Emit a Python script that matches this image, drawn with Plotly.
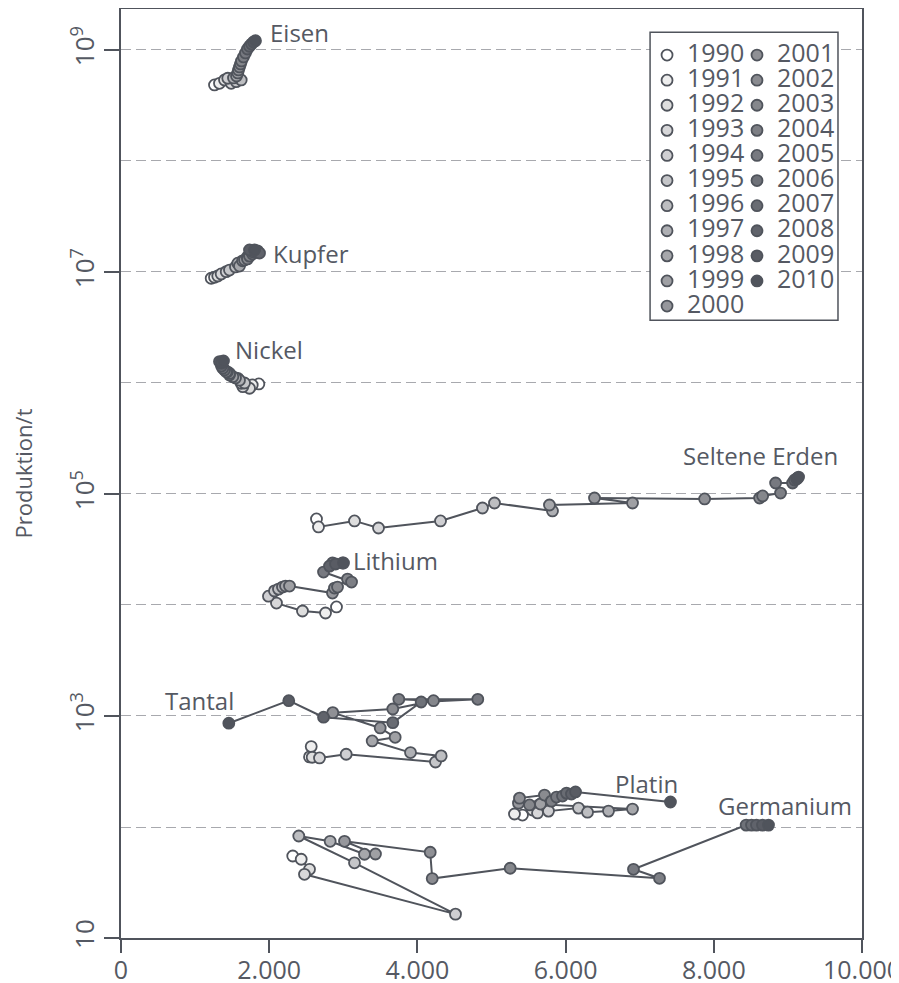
import plotly.graph_objects as go

years = list(range(1990, 2011))

eisen_x = [1262, 1329, 1397, 1487, 1441, 1555, 1622, 1518, 1559, 1576, 1586,
           1599, 1613, 1626, 1653, 1680, 1707, 1734, 1761, 1788, 1815]
eisen_y = [4.84e8, 5.01e8, 5.37e8, 5.01e8, 5.56e8, 5.18e8, 5.37e8, 5.6e8, 5.84e8, 6.21e8, 6.61e8,
           7.03e8, 7.48e8, 7.96e8, 8.65e8, 9.4e8, 1.02e9, 1.08e9, 1.13e9, 1.18e9, 1.21e9]

kupfer_x = [1217, 1262, 1306, 1352, 1420, 1464, 1545, 1576, 1599, 1640, 1667,
            1707, 1707, 1734, 1775, 1788, 1829, 1842, 1869, 1734, 1802]
kupfer_y = [8.78e6, 8.96e6, 9.2e6, 9.6e6, 1.007e7, 1.04e7, 1.11e7, 1.2e7, 1.13e7, 1.26e7, 1.28e7,
            1.37e7, 1.31e7, 1.39e7, 1.45e7, 1.51e7, 1.51e7, 1.55e7, 1.48e7, 1.58e7, 1.58e7]

nickel_x = [1860, 1771, 1734, 1644, 1622, 1667, 1576, 1599, 1545, 1509, 1464,
            1464, 1437, 1420, 1397, 1374, 1356, 1352, 1329, 1356, 1383]
nickel_y = [9.8e5, 9.6e5, 8.96e5, 9.27e5, 9.94e5, 1.0e6, 1.1e6, 1.06e6, 1.11e6, 1.14e6, 1.18e6,
            1.22e6, 1.26e6, 1.26e6, 1.31e6, 1.36e6, 1.42e6, 1.5e6, 1.56e6, 1.55e6, 1.58e6]

seltene_x = [2638, 2665, 3151, 3475, 4312, 4878, 5040, 5823, 5782, 6903, 6390,
             7876, 8618, 8659, 8901, 8834, 9063, 9090, 9117, 9130, 9144]
seltene_y = [59600, 50500, 57200, 49400, 57200, 74800, 82900, 70300, 79600, 82900, 92000,
             90200, 92000, 96000, 102000, 125600, 125600, 133700, 136400, 139000, 142000]

lithium_x = [2908, 2760, 2449, 2098, 1990, 2071, 2125, 2179, 2220, 2274, 2854,
             2881, 2922, 3057, 3111, 2733, 2854, 2989, 2814, 2895, 3003]
lithium_y = [9600, 8470, 8830, 10400, 12000, 13400, 13900, 14500, 14800, 14800, 12800,
             14200, 14500, 17100, 16100, 19800, 23900, 23900, 22400, 23400, 23900]

tantal_x = [2544, 2567, 2580, 2679, 3039, 4244, 4321, 3907, 3390, 3700, 3498,
            2858, 3668, 4217, 3749, 4815, 4051, 3668, 2733, 2264, 1455]
tantal_y = [428, 530, 425, 419, 452, 385, 437, 468, 596, 643, 780,
            1072, 1156, 1374, 1413, 1413, 1337, 871, 975, 1374, 861]

platin_x = [5418, 5310, 5553, 5621, 5769, 6174, 6296, 6579, 6903, 5661, 5364,
            5378, 5715, 5513, 5809, 5877, 5958, 6012, 6079, 6134, 7415]
platin_y = [128, 131, 142, 134, 139, 148, 136, 139, 145, 161, 164,
            182, 194, 158, 171, 186, 190, 202, 198, 207, 168]

germanium_x = [2318, 2432, 2544, 2476, 4514, 3151, 2399, 2823, 3286, 3434, 3016,
               4173, 4200, 5252, 7267, 6916, 8437, 8509, 8576, 8657, 8738]
germanium_y = [54.8, 51.2, 41.6, 37.5, 16.4, 47.6, 83, 74.3, 56.8, 57.1, 74.3,
               59.2, 34.3, 42.5, 34.5, 41.6, 104, 104, 104, 104, 104]

element_names = ["Eisen", "Kupfer", "Nickel", "Seltene Erden", "Lithium",
                 "Tantal", "Platin", "Germanium"]
element_x = [eisen_x, kupfer_x, nickel_x, seltene_x, lithium_x, tantal_x, platin_x, germanium_x]
element_y = [eisen_y, kupfer_y, nickel_y, seltene_y, lithium_y, tantal_y, platin_y, germanium_y]

# label anchor positions (x data, log10 y)
label_x = [1990, 2030, 1515, 7560, 3110, 570, 6640, 8025]
label_y = [9.153, 7.168, 6.306, 5.351, 4.405, 3.144, 2.394, 2.198]

x_ticks = [0, 2000, 4000, 6000, 8000, 10000]
y_ticks = [10, 1e3, 1e5, 1e7, 1e9]
y_ticktext = ["10", "10<sup>3</sup>", "10<sup>5</sup>", "10<sup>7</sup>", "10<sup>9</sup>"]
y_minor = [1e2, 1e4, 1e6, 1e8]

year_colors = ["#ffffff", "#eeeeee", "#dedede", "#d7d7d9", "#cfcfd2", "#c5c6c9", "#bdbec1",
               "#afb0b4", "#a6a7ab", "#9fa0a4", "#96979c", "#8f9095", "#8a8b90", "#85878c",
               "#7d7f85", "#777980", "#6f7279", "#696c73", "#60636b", "#595c64", "#50545c"]

INK = "#50545c"
TEXT = "#555963"
GRID = "#a8a9ae"
FONT = "Open Sans"

fig = go.Figure()

for name, xs, ys in zip(element_names, element_x, element_y):
    fig.add_trace(go.Scatter(x=xs, y=ys, mode="lines", name=name,
                             line=dict(color=INK, width=2),
                             showlegend=False, hoverinfo="skip"))

for i, yr in enumerate(years):
    fig.add_trace(go.Scatter(
        x=[xs[i] for xs in element_x],
        y=[ys[i] for ys in element_y],
        mode="markers",
        name=f'<span style="font-size:25px">{yr}</span>',
        legend="legend" if yr <= 2000 else "legend2",
        marker=dict(size=11, color=year_colors[i], line=dict(color=INK, width=1.8)),
    ))

annotations = []
for name, lx, ly in zip(element_names, label_x, label_y):
    annotations.append(dict(x=lx, y=ly, xref="x", yref="y", text=name, showarrow=False,
                            xanchor="left", yanchor="middle",
                            font=dict(family=FONT, size=24, color=TEXT)))

legend_common = dict(xanchor="left", yanchor="top", bgcolor="rgba(0,0,0,0)", borderwidth=0,
                     font=dict(family=FONT, size=17, color=TEXT), tracegroupgap=0,
                     itemclick=False, itemdoubleclick=False)

fig.update_layout(
    width=891, height=975,
    margin=dict(l=113, r=37, t=1, b=45, pad=0),
    paper_bgcolor="white", plot_bgcolor="white",
    font=dict(family=FONT, color=TEXT, size=25),
    separators=",.",
    showlegend=True,
    xaxis=dict(range=[0, 10000], tickvals=x_ticks, tickformat=",d",
               showline=True, linecolor=INK, linewidth=1.5, mirror=True,
               ticks="outside", ticklen=13, tickcolor=INK, tickwidth=1.5,
               showgrid=False, zeroline=False, automargin=False,
               ticklabeloverflow="allow", ticklabelstandoff=-4,
               tickfont=dict(family=FONT, size=25, color=TEXT)),
    yaxis=dict(type="log", range=[1, 9.369], tickvals=y_ticks, ticktext=y_ticktext,
               tickangle=-90, showline=True, linecolor=INK, linewidth=1.5, mirror=True,
               ticks="outside", ticklen=15, tickcolor=INK, tickwidth=1.5,
               showgrid=True, gridcolor=GRID, gridwidth=1.2, griddash="10px,5px",
               zeroline=False, automargin=False, ticklabeloverflow="allow",
               minor=dict(tickvals=y_minor, showgrid=True, gridcolor=GRID, gridwidth=1.2,
                          griddash="10px,5px", ticks=""),
               tickfont=dict(family=FONT, size=26, color=TEXT),
               title=dict(text="Produktion/t", font=dict(family=FONT, size=22, color=TEXT),
                          standoff=30)),
    legend=dict(x=0.7099, y=0.9693, **legend_common),
    legend2=dict(x=0.8313, y=0.9693, **legend_common),
    shapes=[dict(type="rect", xref="paper", yref="paper",
                 x0=0.714, x1=0.9676, y0=0.665, y1=0.975,
                 line=dict(color=INK, width=1.5), fillcolor="white", layer="above")],
    annotations=annotations,
)

fig.write_html("out.html")
